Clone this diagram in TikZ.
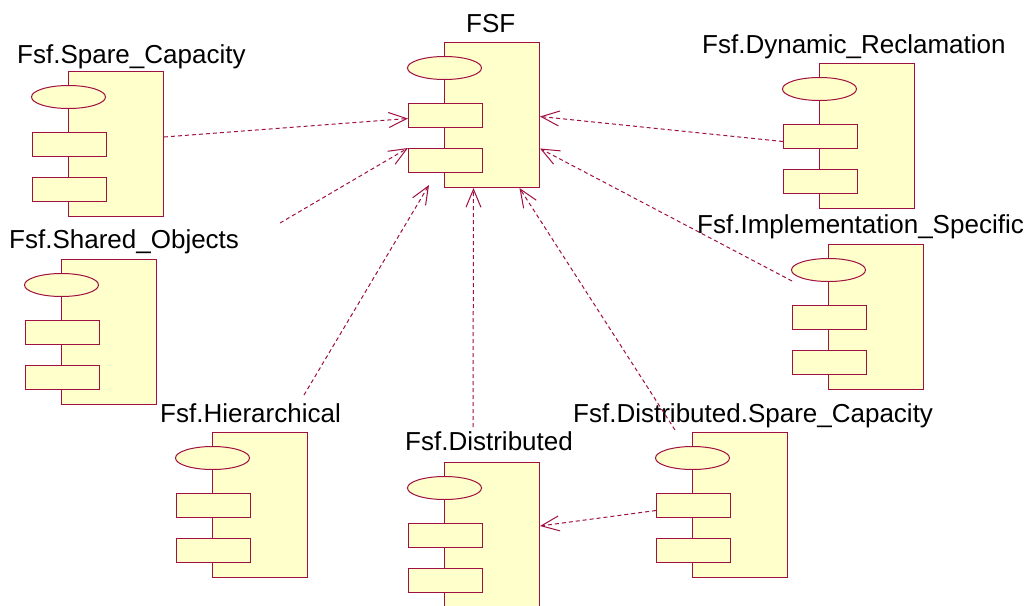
\documentclass[tikz,border=0pt]{standalone}
\usepackage{fontspec}
\setmainfont{Liberation Sans}
\usetikzlibrary{arrows.meta,calc,shapes.geometric}
\definecolor{umlline}{RGB}{160,16,64}
\definecolor{umlfill}{RGB}{255,255,204}
\tikzset{
  compbody/.style={draw=umlline,fill=umlfill,line width=1pt,rectangle,inner sep=0pt,
    minimum width=95pt,minimum height=145pt,anchor=north west},
  compoval/.style={draw=umlline,fill=umlfill,line width=1pt,ellipse,inner sep=0pt,
    minimum width=74pt,minimum height=23pt},
  compbar/.style={draw=umlline,fill=umlfill,line width=1pt,rectangle,inner sep=0pt,
    minimum width=74pt,minimum height=24pt,anchor=north west},
  complabel/.style={anchor=base west,inner sep=0pt,font=\fontsize{26}{30}\selectfont,text=black},
  depend/.style={draw=umlline,line width=1pt,dash pattern=on 4pt off 3pt,
    -{Straight Barb[length=18pt,width=15pt,line width=1pt]}}
}
% component symbol: name, left edge, top edge of the body
\newcommand{\umlcomp}[3]{%
  \node[compbody] (#1) at (#2,#3) {};
  \node[compoval] (#1-e) at ($(#2,#3)+(0.5,26)$) {};
  \node[compbar] (#1-r1) at ($(#2,#3)+(-36,61)$) {};
  \node[compbar] (#1-r2) at ($(#2,#3)+(-36,106)$) {};
}
\begin{document}
\begin{tikzpicture}[x=1pt,y=-1pt]
\useasboundingbox[fill=white] (0,0) rectangle (1027,605);

% components
\umlcomp{fsf}{444}{42}
\umlcomp{spare}{68}{71}
\umlcomp{dynrec}{819}{63}
\umlcomp{impl}{828}{244}
\umlcomp{shared}{61}{259}
\umlcomp{hier}{212}{432}
\umlcomp{dist}{444}{462}
\umlcomp{dspare}{692}{432}

% names
\node[complabel] (fsf-l) at (466,32) {FSF};
\node[complabel] (spare-l) at (17,63) {Fsf.Spare\_Capacity};
\node[complabel] (dynrec-l) at (702,53) {Fsf.Dynamic\_Reclamation};
\node[complabel] (impl-l) at (697,233) {Fsf.Implementation\_Specific};
\node[complabel] (shared-l) at (9,248) {Fsf.Shared\_Objects};
\node[complabel] (hier-l) at (160,422) {Fsf.Hierarchical};
\node[complabel] (dist-l) at (405,450) {Fsf.Distributed};
\node[complabel] (dspare-l) at (573,422) {Fsf.Distributed.Spare\_Capacity};

% loose ends of the dependencies
\coordinate (shared-out) at (280,223);
\coordinate (hier-out) at (304,395);
\coordinate (hier-in) at (429,185);
\coordinate (dist-out) at (473,427);
\coordinate (dspare-out) at (675,430);
\coordinate (impl-out) at (792,281);

% dependencies
\draw[depend] ([yshift=-66pt]spare.north east) -- ([yshift=-3pt]fsf-r1.west);
\draw[depend] (shared-out) -- (fsf-r2.north west);
\draw[depend] (hier-out) -- (hier-in);
\draw[depend] (dist-out) -- ([xshift=-18.5pt]fsf.south);
\draw[depend] (dspare-out) -- ([xshift=27.5pt]fsf.south);
\draw[depend] ([yshift=-5pt]dspare-r1.west) -- ([yshift=9pt]dist.east);
\draw[depend] ([yshift=-5pt]dynrec-r1.west) -- ([yshift=-1.5pt]fsf.east);
\draw[depend] (impl-out) -- ([yshift=-33.5pt]fsf.east);
\end{tikzpicture}
\end{document}
